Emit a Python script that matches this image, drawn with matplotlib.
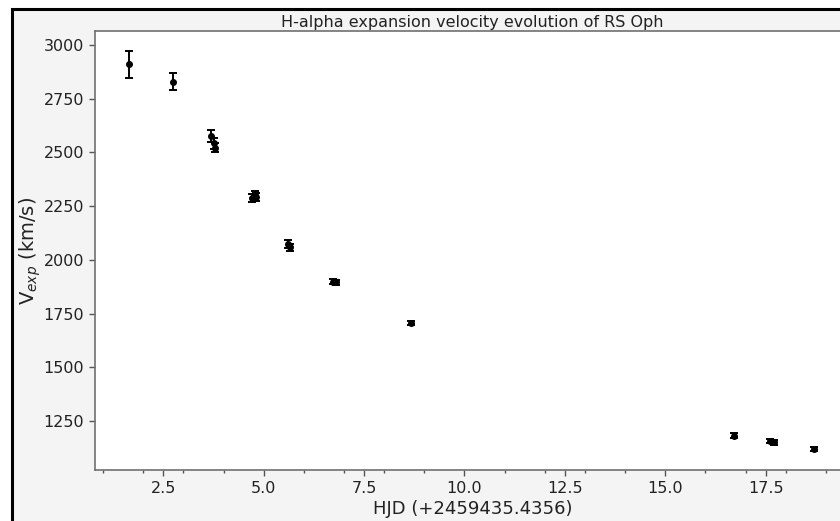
import matplotlib
matplotlib.use("Agg")
import matplotlib.pyplot as plt
from matplotlib.patches import Rectangle
from matplotlib.ticker import MultipleLocator

# Data
hjd = [1.65, 2.74, 3.70, 3.76, 3.78, 4.72, 4.78, 4.80, 5.60, 5.66, 6.72, 6.80, 8.67, 16.72, 17.62, 17.72, 18.70]
vexp = [2910, 2829, 2578, 2542, 2522, 2288, 2300, 2292, 2075, 2058, 1898, 1895, 1707, 1182, 1158, 1150, 1121]
verr = [64, 40, 28, 25, 22, 20, 20, 18, 18, 15, 12, 12, 10, 10, 10, 10, 10]

title = "H-alpha expansion velocity evolution of RS Oph"
xlabel = "HJD (+2459435.4356)"
ylabel = r"V$_{exp}$ (km/s)"

W, H = 840, 521
fig = plt.figure(figsize=(W / 100, H / 100), dpi=100)
fig.patch.set_facecolor("white")
fig.add_artist(Rectangle((12 / W, -0.1), 1.2, (H - 9) / H + 0.1, transform=fig.transFigure,
                         facecolor="#f4f4f4", edgecolor="black", lw=2.2, zorder=-5))

ax = fig.add_axes([95 / W, (H - 470) / H, (850 - 95) / W, (470 - 31) / H])
ax.set_facecolor("white")
ax.errorbar(hjd, vexp, yerr=verr, fmt="o", color="black", ms=4, capsize=3,
            elinewidth=1.4, capthick=1.4)

ax.set_xlim(0.8, 19.6)
ax.set_ylim(1022, 3065)
ax.xaxis.set_major_locator(MultipleLocator(2.5))
ax.xaxis.set_minor_locator(MultipleLocator(1.0))
ax.set_yticks([1250, 1500, 1750, 2000, 2250, 2500, 2750, 3000])

for s in ax.spines.values():
    s.set_color("#707070")
    s.set_linewidth(1.2)
ax.tick_params(axis="both", which="major", length=4, width=1, color="#555555",
               labelsize=11.5, labelcolor="#222222", pad=4)
ax.tick_params(axis="x", which="minor", length=2.5, width=1, color="#555555")

ax.set_title(title, fontsize=11.5, color="#222222", pad=3)
ax.set_xlabel(xlabel, fontsize=13, color="#222222", labelpad=3)
ax.set_ylabel(ylabel, fontsize=14, color="#222222", labelpad=0)

fig.savefig("out.png", dpi=100)
